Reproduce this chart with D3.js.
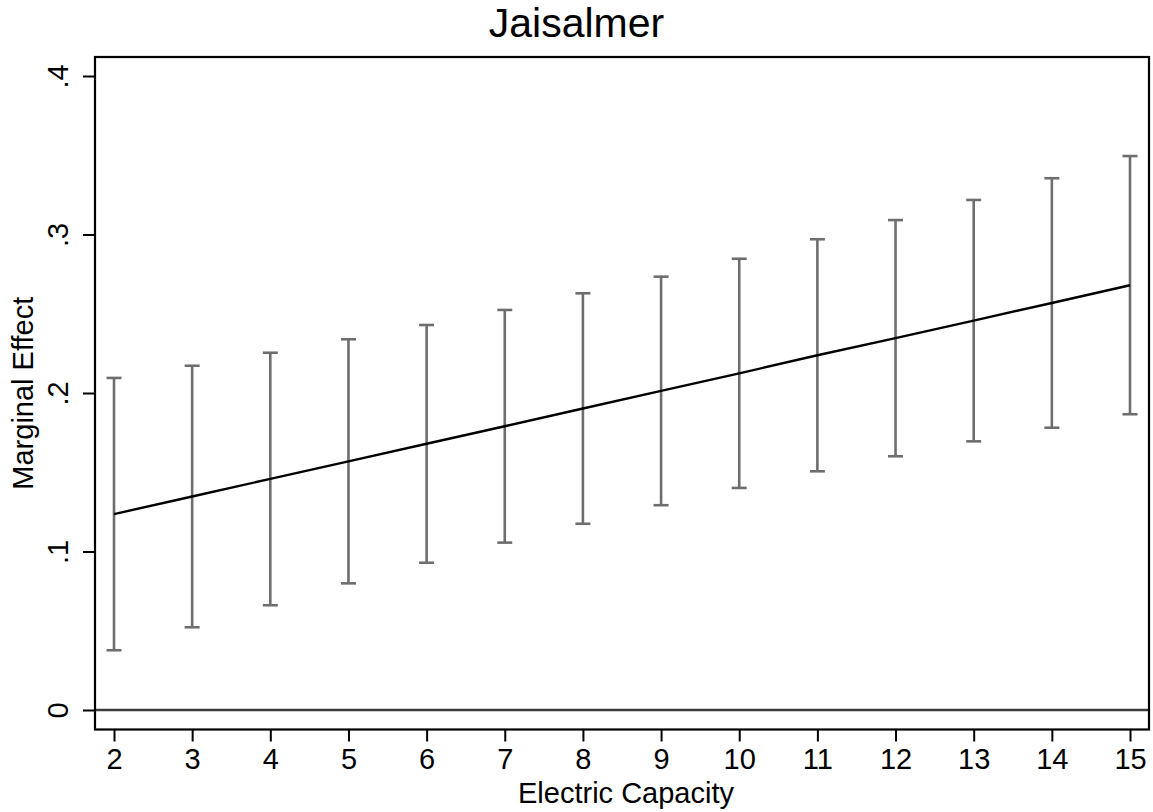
<!DOCTYPE html>
<html>
<head>
<meta charset="utf-8">
<script src="https://cdn.jsdelivr.net/npm/d3@7"></script>
<style>
  html, body { margin: 0; padding: 0; background: #fff; }
  svg { display: block; font-family: "Liberation Sans", Arial, Helvetica, sans-serif; }
</style>
</head>
<body>
<svg id="chart" width="1153" height="812"></svg>
<script>
// Marginal effect of the treatment by electric capacity, with confidence bounds
const capacity = [2, 3, 4, 5, 6, 7, 8, 9, 10, 11, 12, 13, 14, 15];
const effect   = [0.1236, 0.1347, 0.1458, 0.1569, 0.1680, 0.1790, 0.1902, 0.2013, 0.2124, 0.2238, 0.2346, 0.2457, 0.2568, 0.2680];
const upper    = [0.2095, 0.2172, 0.2254, 0.2339, 0.2429, 0.2524, 0.2629, 0.2734, 0.2847, 0.2970, 0.3091, 0.3218, 0.3355, 0.3495];
const lower    = [0.0377, 0.0522, 0.0661, 0.0799, 0.0929, 0.1056, 0.1175, 0.1292, 0.1401, 0.1506, 0.1601, 0.1695, 0.1781, 0.1866];
const yTicks   = [0, 0.1, 0.2, 0.3, 0.4];
const yTickLabels = ["0", ".1", ".2", ".3", ".4"];
const xTicks   = capacity;

const titleText = "Jaisalmer";
const xTitle = "Electric Capacity";
const yTitle = "Marginal Effect";

const svg = d3.select("#chart");

// plot region (frame)
const box = { left: 95, right: 1149, top: 57, bottom: 729.5 };

const x = d3.scaleLinear().domain([2, 15]).range([114, 1130]);
const y = d3.scaleLinear().domain([0, 0.4]).range([710, 76]);

const barColor = "#6e6e6e";

// zero reference line
svg.append("line")
  .attr("x1", box.left).attr("x2", box.right)
  .attr("y1", y(0)).attr("y2", y(0))
  .attr("stroke", "#3c3c3c").attr("stroke-width", 2.4);

// confidence interval bars
const rows = capacity.map((c, i) => ({ c, lo: lower[i], hi: upper[i], m: effect[i] }));
const capW = 7.5;
const bars = svg.append("g").attr("stroke", barColor).attr("stroke-width", 2.6).attr("fill", "none");
bars.selectAll("line.v").data(rows).join("line").attr("class", "v")
  .attr("x1", d => x(d.c)).attr("x2", d => x(d.c))
  .attr("y1", d => y(d.lo)).attr("y2", d => y(d.hi));
bars.selectAll("line.top").data(rows).join("line").attr("class", "top")
  .attr("x1", d => x(d.c) - capW).attr("x2", d => x(d.c) + capW)
  .attr("y1", d => y(d.hi)).attr("y2", d => y(d.hi));
bars.selectAll("line.bot").data(rows).join("line").attr("class", "bot")
  .attr("x1", d => x(d.c) - capW).attr("x2", d => x(d.c) + capW)
  .attr("y1", d => y(d.lo)).attr("y2", d => y(d.lo));

// point estimate line
svg.append("path")
  .datum(rows)
  .attr("fill", "none")
  .attr("stroke", "#000")
  .attr("stroke-width", 2.4)
  .attr("d", d3.line().x(d => x(d.c)).y(d => y(d.m)));

// frame
svg.append("rect")
  .attr("x", box.left).attr("y", box.top)
  .attr("width", box.right - box.left).attr("height", box.bottom - box.top)
  .attr("fill", "none").attr("stroke", "#000").attr("stroke-width", 2.2);

// y axis
const yAxis = d3.axisLeft(y).tickValues(yTicks).tickSize(12).tickPadding(0)
  .tickFormat((d, i) => yTickLabels[i]);
const gy = svg.append("g").attr("transform", `translate(${box.left},0)`).call(yAxis);
gy.select(".domain").remove();
gy.selectAll(".tick line").attr("stroke", "#000").attr("stroke-width", 2);
gy.selectAll(".tick text")
  .attr("x", null).attr("dy", null)
  .attr("transform", "translate(-27,0) rotate(-90)")
  .attr("text-anchor", "middle")
  .attr("fill", "#000")
  .style("font-size", "29px")
  .style("font-family", "'Liberation Sans', Arial, sans-serif");

// x axis
const xAxis = d3.axisBottom(x).tickValues(xTicks).tickSize(12).tickPadding(0);
const gx = svg.append("g").attr("transform", `translate(0,${box.bottom})`).call(xAxis);
gx.select(".domain").remove();
gx.selectAll(".tick line").attr("stroke", "#000").attr("stroke-width", 2);
gx.selectAll(".tick text")
  .attr("y", 39).attr("dy", null)
  .attr("fill", "#000")
  .style("font-size", "29px")
  .style("font-family", "'Liberation Sans', Arial, sans-serif");

// titles
svg.append("text")
  .attr("x", 576.5).attr("y", 37)
  .attr("text-anchor", "middle")
  .style("font-size", "41px")
  .text(titleText);

svg.append("text")
  .attr("x", 626).attr("y", 803)
  .attr("text-anchor", "middle")
  .style("font-size", "29px")
  .text(xTitle);

svg.append("text")
  .attr("transform", `translate(33,${(box.top + box.bottom) / 2}) rotate(-90)`)
  .attr("text-anchor", "middle")
  .style("font-size", "29px")
  .text(yTitle);
</script>
</body>
</html>
